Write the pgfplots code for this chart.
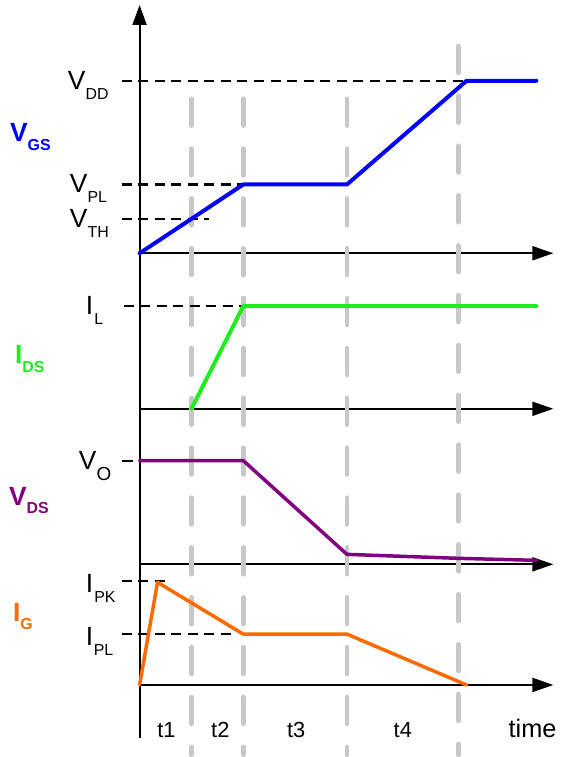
\documentclass[border=0pt]{standalone}
\usepackage{fontspec}
\setmainfont{Liberation Sans}
\usepackage{pgfplots}
\pgfplotsset{compat=1.18}
\usetikzlibrary{arrows.meta}

\definecolor{vgsblue}{RGB}{0,0,255}
\definecolor{idsgreen}{RGB}{30,238,30}
\definecolor{vdspurple}{RGB}{128,0,128}
\definecolor{igorange}{RGB}{255,106,0}
\definecolor{phasegray}{RGB}{200,200,200}

\newcommand{\mainsz}{\fontsize{26.5}{26.5}\selectfont}
\newcommand{\subsz}{\fontsize{16}{16}\selectfont}
% level label: main letter with a lowered subscript
\newcommand{\lvl}[2]{{\mainsz #1}\raisebox{-10bp}{\subsz #2}}
% signal name: bold, coloured
\newcommand{\sig}[2]{{\fontsize{26.5}{26.5}\selectfont\bfseries #1}\raisebox{-8.5bp}{\fontsize{16}{16}\selectfont\bfseries #2}}

\begin{document}
\begin{tikzpicture}
\begin{axis}[
  x=1bp, y=1bp, y dir=reverse,
  xmin=0, xmax=563, ymin=0, ymax=757,
  hide axis, clip=false,
  every axis plot/.append style={line cap=round, line join=round},
]
% page extent
\addplot[draw=none] coordinates {(0,0) (563,757)};

% time axis (vertical) and the four signal baselines
\addplot[black, line width=2bp, line cap=butt, -{Triangle[length=20bp,width=14bp]}]
  coordinates {(140,740) (140,5)};
\addplot[black, line width=2bp, line cap=butt, -{Triangle[length=21bp,width=14bp]}]
  coordinates {(140,254) (555,254)};
\addplot[black, line width=2bp, line cap=butt, -{Triangle[length=21bp,width=14bp]}]
  coordinates {(140,410) (555,410)};
\addplot[black, line width=2bp, line cap=butt, -{Triangle[length=21bp,width=14bp]}]
  coordinates {(140,566) (555,566)};
\addplot[black, line width=2bp, line cap=butt, -{Triangle[length=21bp,width=14bp]}]
  coordinates {(140,687) (555,687)};

% phase boundaries t1 | t2 | t3 | t4
\addplot[phasegray, line width=4.5bp, dash pattern=on 27bp off 23bp]
  coordinates {(192,99) (192,757)};
\addplot[phasegray, line width=4.5bp, dash pattern=on 27bp off 23bp]
  coordinates {(244,99) (244,757)};
\addplot[phasegray, line width=4.5bp, dash pattern=on 27bp off 23bp]
  coordinates {(348,99) (348,757)};
\addplot[phasegray, line width=4.5bp, dash pattern=on 27bp off 23bp]
  coordinates {(460,46) (460,757)};

% reference levels
\addplot[black, line width=2.2bp, line cap=butt, dash pattern=on 10bp off 6.6bp]
  coordinates {(122,81) (468,81)};
\addplot[black, line width=2.2bp, line cap=butt, dash pattern=on 10bp off 6.6bp]
  coordinates {(122,185) (244,185)};
\addplot[black, line width=2.2bp, line cap=butt, dash pattern=on 10bp off 6.6bp]
  coordinates {(122,220) (210,220)};
\addplot[black, line width=2.2bp, line cap=butt, dash pattern=on 10bp off 6.6bp]
  coordinates {(124,307) (244,307)};
\addplot[black, line width=2.2bp, line cap=butt]
  coordinates {(122,462) (133,462)};
\addplot[black, line width=2.2bp, line cap=butt, dash pattern=on 10bp off 6.6bp]
  coordinates {(122,583) (166,583)};
\addplot[black, line width=2.2bp, line cap=butt, dash pattern=on 10bp off 6.6bp]
  coordinates {(122,636) (234,636)};

% V_GS
\addplot[vgsblue, line width=4bp]
  coordinates {(140,254) (244,185) (348,185) (468,81) (538,81)};
% I_DS
\addplot[idsgreen, line width=4bp]
  coordinates {(192,410) (244,307) (538,307)};
% V_DS
\addplot[vdspurple, line width=3.5bp]
  coordinates {(140,462) (244,462) (348,556) (460,560) (538,562)};
% I_G
\addplot[igorange, line width=3.5bp]
  coordinates {(140,687) (158,584) (244,636) (348,636) (468,687)};

% level labels
\node[anchor=base west, inner sep=0] at (axis cs:68,90)  {\lvl{V}{DD}};
\node[anchor=base west, inner sep=0] at (axis cs:70,193) {\lvl{V}{PL}};
\node[anchor=base west, inner sep=0] at (axis cs:70,228) {\lvl{V}{TH}};
\node[anchor=base west, inner sep=0] at (axis cs:86,315) {\lvl{I}{\hspace{1bp}L}};
\node[anchor=base west, inner sep=0] at (axis cs:79,471) {{\mainsz V}\raisebox{-10.5bp}{\fontsize{19}{19}\selectfont O}};
\node[anchor=base west, inner sep=0] at (axis cs:86,594) {\lvl{I}{\hspace{1bp}PK}};
\node[anchor=base west, inner sep=0] at (axis cs:86,647) {\lvl{I}{\hspace{0.5bp}PL}};

% signal names
\node[anchor=base west, inner sep=0, text=vgsblue]    at (axis cs:10,142) {\sig{V}{GS}};
\node[anchor=base west, inner sep=0, text=idsgreen]   at (axis cs:15,365) {\sig{I}{DS}};
\node[anchor=base west, inner sep=0, text=vdspurple]  at (axis cs:9,507)  {\sig{V}{DS}};
\node[anchor=base west, inner sep=0, text=igorange]   at (axis cs:13,623) {\sig{I}{G}};

% interval names and time label
\node[anchor=base, inner sep=0, font=\fontsize{22}{22}\selectfont] at (axis cs:167,740) {t1};
\node[anchor=base, inner sep=0, font=\fontsize{22}{22}\selectfont] at (axis cs:221,740) {t2};
\node[anchor=base, inner sep=0, font=\fontsize{22}{22}\selectfont] at (axis cs:297,740) {t3};
\node[anchor=base, inner sep=0, font=\fontsize{22}{22}\selectfont] at (axis cs:404,740) {t4};
\node[anchor=base west, inner sep=0, font=\fontsize{25.5}{25.5}\selectfont] at (axis cs:510,740) {time};
\end{axis}
\end{tikzpicture}
\end{document}
